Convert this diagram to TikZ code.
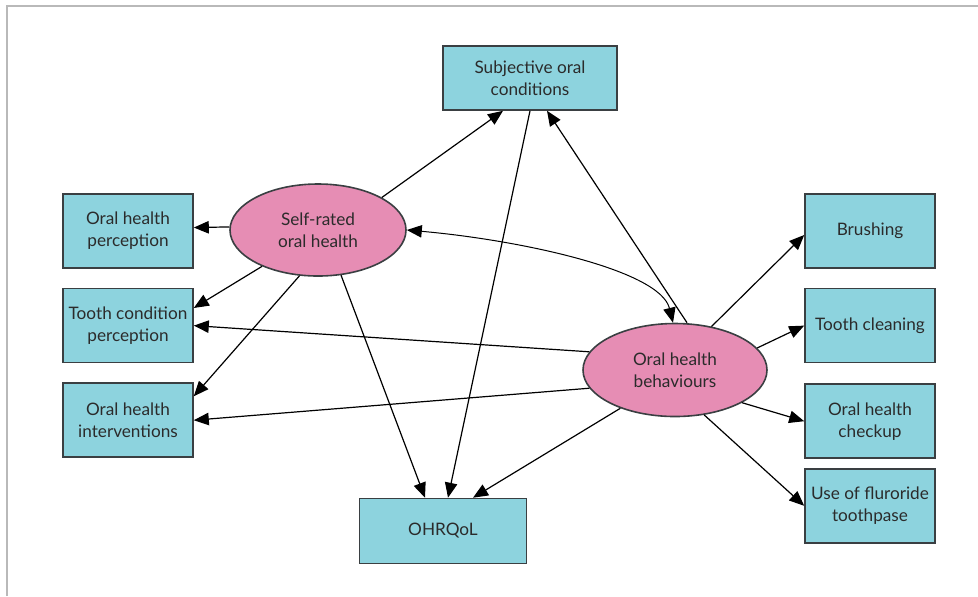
\documentclass[tikz,border=0pt]{standalone}
\usepackage{fontspec}
\setmainfont{Lato}
\usepackage{tikz}
\usetikzlibrary{shapes.geometric,arrows.meta,positioning}
\definecolor{boxfill}{HTML}{8DD3DE}
\definecolor{latentfill}{HTML}{E68DB4}
\definecolor{edgegray}{HTML}{3A3F42}
\definecolor{textgray}{HTML}{2B2B2B}
\tikzset{
  indicator/.style={rectangle,draw=edgegray,fill=boxfill,text=textgray,
    minimum width=65pt,minimum height=37pt,align=center,line width=0.8pt,
    inner sep=1pt,font=\fontsize{8.6}{11}\selectfont},
  latent/.style={ellipse,draw=edgegray,fill=latentfill,text=textgray,
    minimum width=88pt,minimum height=46pt,align=center,line width=0.8pt,
    inner sep=1pt,font=\fontsize{8.6}{11}\selectfont},
  myarrow/.style={-{Triangle[length=7.5pt,width=6.2pt]},line width=0.6pt,black},
  biarrow/.style={{Triangle[length=7.5pt,width=6.2pt]}-{Triangle[length=7.5pt,width=6.2pt]},line width=0.5pt,black},
}
\begin{document}
\begin{tikzpicture}[x=0.5pt,y=-0.5pt]
  \useasboundingbox (0,0) rectangle (978,596);
  \draw[gray!55,line width=0.8pt] (7,596) -- (7,6) -- (978,6);
  % latent variables
  \node[latent] (self) at (318,230) {Self-rated\\oral health};
  \node[latent,minimum width=92pt,minimum height=46.5pt] (beh) at (675,370) {Oral health\\behaviours};
  % outcomes
  \node[indicator,minimum width=87pt,minimum height=32pt] (subj) at (530,78) {Subjective oral\\conditions};
  \node[indicator,minimum width=83.5pt,minimum height=32.5pt] (ohrqol) at (443,531) {OHRQoL};
  % left column
  \node[indicator] (perc) at (128,231) {Oral health\\perception};
  \node[indicator,below=9.5pt of perc] (tooth) {Tooth condition\\perception};
  \node[indicator,below=9.5pt of tooth] (interv) {Oral health\\interventions};
  % right column
  \node[indicator] (brush) at (870,231) {Brushing};
  \node[indicator,below=9.5pt of brush] (clean) {Tooth cleaning};
  \node[indicator,below=10pt of clean] (checkup) {Oral health\\checkup};
  \node[indicator,below=4.5pt of checkup] (fluor) {Use of fluroride\\toothpase};
  % paths from self-rated oral health
  \draw[myarrow] (self.27) -- ([xshift=-13.5pt]subj.south);
  \draw[myarrow] (self.178) -- (perc.3);
  \draw[myarrow] (self.213) -- (tooth.15);
  \draw[myarrow] (self.248) -- (interv.20);
  \draw[myarrow] (self.297) -- ([xshift=-9pt]ohrqol.north);
  \draw[myarrow] (subj.south) -- ([xshift=2.5pt]ohrqol.north);
  \draw[biarrow] (self.east) .. controls (520,240) and (660,270) .. ([xshift=-1pt]beh.north);
  % paths from oral health behaviours
  \draw[myarrow] ([xshift=6pt]beh.north) -- ([xshift=8.5pt]subj.south);
  \draw[myarrow] (beh.168) -- (tooth.east);
  \draw[myarrow] (beh.192) -- (interv.east);
  \draw[myarrow] (beh.215) -- ([xshift=15pt]ohrqol.north);
  \draw[myarrow] (beh.50) -- ([yshift=-2pt]brush.west);
  \draw[myarrow] (beh.15) -- (clean.west);
  \draw[myarrow] (beh.334) -- (checkup.west);
  \draw[myarrow] (beh.303) -- (fluor.west);
\end{tikzpicture}
\end{document}
